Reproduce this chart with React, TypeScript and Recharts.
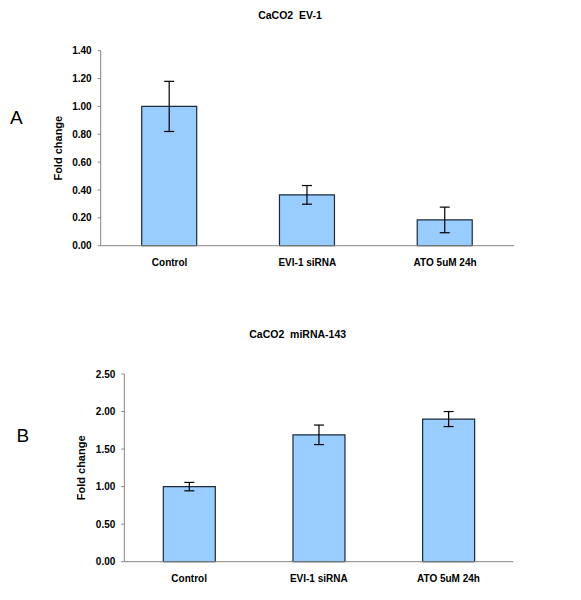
import React from 'react';
import { BarChart, Bar, XAxis, YAxis, ErrorBar } from 'recharts';

const categories = ['Control', 'EVI-1 siRNA', 'ATO 5uM 24h'];

const evi1Values = [1.0, 0.365, 0.185];
const evi1Errors = [0.18, 0.067, 0.092];
const evi1Ticks = [0, 0.2, 0.4, 0.6, 0.8, 1.0, 1.2, 1.4];

const mir143Values = [1.0, 1.69, 1.9];
const mir143Errors = [0.056, 0.13, 0.1];
const mir143Ticks = [0, 0.5, 1.0, 1.5, 2.0, 2.5];

const edgeTicks = categories.map((_, i) => i).concat(categories.length);

const FONT = '"Liberation Sans", Arial, sans-serif';
const AXIS_GRAY = '#868686';

const evi1Data = categories.map((name, i) => ({ name, value: evi1Values[i], err: evi1Errors[i] }));
const mir143Data = categories.map((name, i) => ({ name, value: mir143Values[i], err: mir143Errors[i] }));

type PanelProps = {
  data: { name: string; value: number; err: number }[];
  ticks: number[];
  margin: { top: number; right: number; bottom: number; left: number };
  yAxisWidth: number;
  barSize: number;
};

function Panel({ data, ticks, margin, yAxisWidth, barSize }: PanelProps) {
  return (
    <BarChart width={581} height={300} data={data} margin={margin}>
      <XAxis
        xAxisId="edges"
        type="number"
        domain={[0, categories.length]}
        ticks={edgeTicks}
        height={0}
        axisLine={false}
        tick={false}
        tickSize={4}
        tickLine={{ stroke: AXIS_GRAY }}
      />
      <XAxis
        xAxisId="cat"
        dataKey="name"
        height={30}
        axisLine={{ stroke: AXIS_GRAY }}
        tickLine={false}
        tickSize={0}
        tickMargin={13}
        interval={0}
        tick={{ fill: '#000', fontSize: 10, fontWeight: 700, fontFamily: FONT }}
      />
      <YAxis
        width={yAxisWidth}
        domain={[ticks[0], ticks[ticks.length - 1]]}
        ticks={ticks}
        interval={0}
        tickFormatter={(v: number) => v.toFixed(2)}
        axisLine={{ stroke: AXIS_GRAY }}
        tickLine={{ stroke: AXIS_GRAY }}
        tickSize={3}
        tickMargin={6}
        tick={{ fill: '#000', fontSize: 10, fontWeight: 700, fontFamily: FONT }}
        label={{
          value: 'Fold change',
          angle: -90,
          position: 'center',
          style: { fill: '#000', fontSize: 11, fontWeight: 700, fontFamily: FONT },
        }}
      />
      <Bar
        xAxisId="cat"
        dataKey="value"
        barSize={barSize}
        fill="#99CCFF"
        stroke="#1c2a3a"
        strokeWidth={1.2}
        isAnimationActive={false}
      >
        <ErrorBar dataKey="err" width={5} stroke="#000" strokeWidth={1.2} direction="y" isAnimationActive={false} />
      </Bar>
    </BarChart>
  );
}

const titleStyle: React.CSSProperties = {
  position: 'absolute',
  transform: 'translate(-50%, -50%)',
  fontFamily: FONT,
  fontWeight: 700,
  fontSize: 10.5,
  lineHeight: 1,
  whiteSpace: 'pre',
};

const letterStyle: React.CSSProperties = {
  position: 'absolute',
  transform: 'translate(-50%, -50%)',
  fontFamily: FONT,
  fontSize: 19,
  lineHeight: 1,
};

export default function App() {
  return (
    <div style={{ position: 'absolute', left: 0, top: 0, width: 581, height: 600, background: '#fff' }}>
      <div style={{ position: 'absolute', left: 0, top: 0 }}>
        <Panel
          data={evi1Data}
          ticks={evi1Ticks}
          margin={{ top: 50.7, right: 67, bottom: 24.3, left: 15.3 }}
          yAxisWidth={85.4}
          barSize={55}
        />
      </div>
      <div style={{ position: 'absolute', left: 0, top: 300 }}>
        <Panel
          data={mir143Data}
          ticks={mir143Ticks}
          margin={{ top: 74, right: 67.7, bottom: 8.3, left: 37.7 }}
          yAxisWidth={86.6}
          barSize={52}
        />
      </div>
      <div style={{ ...titleStyle, left: 290, top: 14.5 }}>{'CaCO2  EV-1'}</div>
      <div style={{ ...titleStyle, left: 297.7, top: 333.5 }}>{'CaCO2  miRNA-143'}</div>
      <div style={{ ...letterStyle, left: 16.3, top: 116.7 }}>A</div>
      <div style={{ ...letterStyle, left: 22.8, top: 435 }}>B</div>
    </div>
  );
}
